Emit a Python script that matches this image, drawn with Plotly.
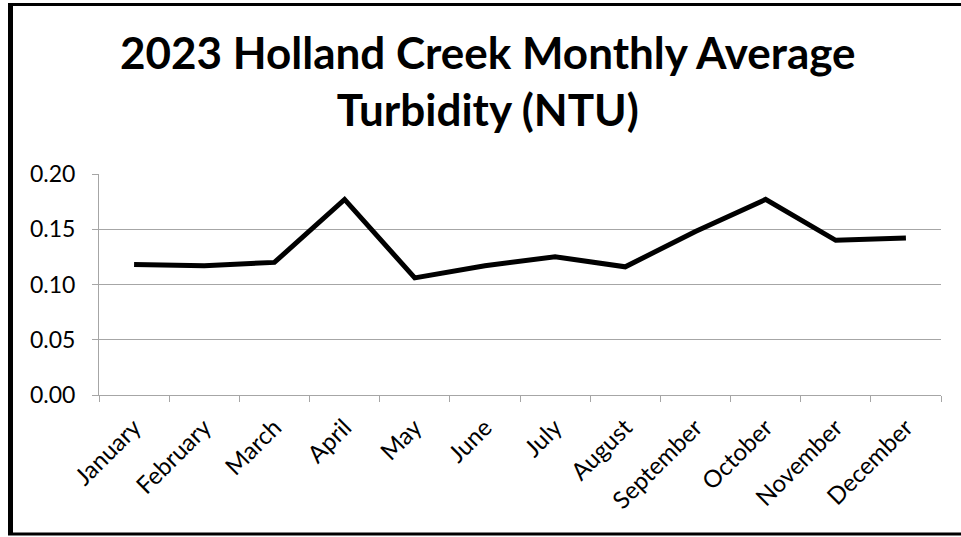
import plotly.graph_objects as go

months = ["January", "February", "March", "April", "May", "June", "July",
          "August", "September", "October", "November", "December"]
turbidity = [0.118, 0.117, 0.120, 0.177, 0.106, 0.117, 0.125, 0.116, 0.148, 0.177, 0.140, 0.142]
y_ticks = [0.00, 0.05, 0.10, 0.15, 0.20]
title_text = "2023 Holland Creek Monthly Average<br>Turbidity (NTU)"

W, H = 961, 537
L, R, T, B = 99, 941, 174, 395

fig = go.Figure()
fig.add_trace(go.Scatter(x=months, y=turbidity, mode="lines",
                         line=dict(color="black", width=5), showlegend=False,
                         hoverinfo="x+y"))

def px_x(p):
    return (p - L) / (R - L)

def px_y(p):
    return (B - p) / (B - T)

grid = "#a6a6a6"
fig.update_layout(
    width=W, height=H,
    margin=dict(l=L, r=W - R, t=T, b=H - B),
    paper_bgcolor="white", plot_bgcolor="white",
    font=dict(family="Lato, Open Sans, sans-serif", color="black"),
    xaxis=dict(type="category", showgrid=False, showline=True, linecolor=grid, linewidth=1,
               ticks="outside", tickson="boundaries", ticklen=6, tickcolor=grid,
               ticklabelstandoff=8,
               tickangle=-45, tickfont=dict(size=24), range=[-0.5, 11.5]),
    yaxis=dict(range=[0, 0.20], tickvals=y_ticks, tickformat=".2f",
               showgrid=True, gridcolor=grid, gridwidth=1, zeroline=False,
               showline=True, linecolor=grid, linewidth=1,
               ticks="outside", ticklen=6, tickcolor=grid,
               ticklabelstandoff=12,
               tickfont=dict(size=23)),
    annotations=[dict(text="<b>" + title_text + "</b>", xref="paper", yref="paper",
                      x=px_x(488), y=px_y(81), xanchor="center", yanchor="middle",
                      showarrow=False, font=dict(size=44, color="black"))],
    shapes=[
        dict(type="line", xref="paper", yref="paper", x0=px_x(10.5), x1=px_x(10.5),
             y0=px_y(3), y1=px_y(535), line=dict(color="black", width=5)),
        dict(type="line", xref="paper", yref="paper", x0=px_x(8), x1=px_x(975),
             y0=px_y(4.5), y1=px_y(4.5), line=dict(color="black", width=3)),
        dict(type="line", xref="paper", yref="paper", x0=px_x(8), x1=px_x(975),
             y0=px_y(534), y1=px_y(534), line=dict(color="black", width=3)),
    ],
)

fig.write_html("out.html", config={"displayModeBar": False},
               post_script="document.body.style.margin='0';document.body.style.overflow='hidden';")
